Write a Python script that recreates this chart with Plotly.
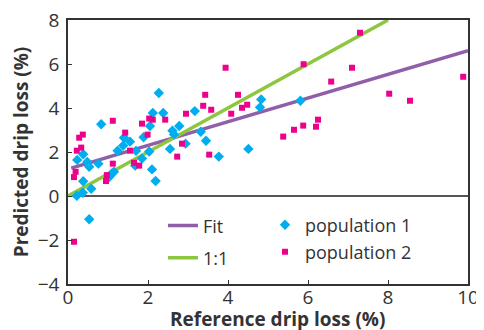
import plotly.graph_objects as go

# population 1 (cyan diamonds)
pop1_x = [0.22, 0.23, 0.37, 0.38, 0.38, 0.48, 0.53, 0.58, 0.76, 0.83, 1.03, 1.09, 1.15, 1.24,
          1.38, 1.40, 1.55, 1.68, 1.70, 1.85, 1.89, 2.03, 2.05, 2.10, 2.12, 2.19, 2.27, 2.38,
          2.55, 2.61, 2.78, 2.94, 3.17, 3.32, 3.45, 3.77, 4.51, 4.80, 4.83, 5.81, 0.53, 2.65]
pop1_y = [0.01, 1.64, 0.15, 0.67, 1.90, 1.55, 1.33, 0.33, 1.47, 3.26, 0.86, 1.01, 1.10, 2.06,
          2.29, 2.65, 2.47, 1.38, 2.05, 1.70, 2.67, 2.02, 3.18, 1.21, 3.77, 0.68, 4.68, 3.77,
          2.14, 2.97, 3.18, 2.38, 3.86, 2.92, 2.51, 1.79, 2.14, 4.03, 4.39, 4.33, -1.06, 2.80]

# population 2 (magenta squares)
pop2_x = [0.15, 0.19, 0.22, 0.28, 0.33, 0.37, 0.95, 0.97, 1.12, 1.12, 1.43, 1.55, 1.65, 1.78,
          1.85, 1.99, 2.03, 2.12, 2.43, 2.73, 2.85, 2.95, 3.38, 3.43, 3.53, 3.58, 3.94, 4.08,
          4.25, 4.35, 4.48, 0.15, 7.30, 5.89, 7.10, 6.58, 9.88, 8.03, 8.55, 6.25, 5.88, 6.20,
          5.65, 5.38]
pop2_y = [0.86, 1.10, 2.06, 2.65, 2.20, 2.79, 0.68, 0.95, 3.42, 1.47, 2.88, 2.06, 1.51, 1.38,
          3.29, 2.79, 3.52, 3.47, 3.47, 1.79, 2.38, 3.74, 4.10, 4.60, 1.88, 3.92, 5.83, 3.74,
          4.60, 4.01, 4.15, -2.08, 7.42, 5.99, 5.83, 5.20, 5.42, 4.65, 4.33, 3.47, 3.20, 3.15,
          3.01, 2.70]

fit_x = [0.08, 10.0]
fit_y = [1.27, 6.60]
one_x = [0.0, 8.0]
one_y = [0.0, 8.0]

x_ticks = [0, 2, 4, 6, 8, 10]
y_ticks = [-4, -2, 0, 2, 4, 6, 8]

x_title = "Reference drip loss (%)"
y_title = "Predicted drip loss (%)"

PURPLE = "#8F5FA8"
GREEN = "#8DC63F"
CYAN = "#00AEEF"
PINK = "#EC008C"
FONT = "Open Sans"

fig = go.Figure()
fig.add_trace(go.Scatter(x=fit_x, y=fit_y, mode="lines", name="Fit", showlegend=True,
                         line=dict(color=PURPLE, width=3.5), legend="legend"))
fig.add_trace(go.Scatter(x=one_x, y=one_y, mode="lines", name="1:1", showlegend=True,
                         line=dict(color=GREEN, width=3.5), legend="legend2"))
fig.add_trace(go.Scatter(x=pop1_x, y=pop1_y, mode="markers", name="population 1", showlegend=True,
                         marker=dict(symbol="diamond", color=CYAN, size=8), legend="legend3"))
fig.add_trace(go.Scatter(x=pop2_x, y=pop2_y, mode="markers", name="population 2", showlegend=True,
                         marker=dict(symbol="square", color=PINK, size=6), legend="legend4"))

leg_font = dict(family=FONT, size=18, color="#333333")
def leg(x, y):
    return dict(x=x, y=y, xanchor="left", yanchor="middle", bgcolor="rgba(0,0,0,0)",
                font=leg_font, borderwidth=0)

fig.add_annotation(text="<b>" + x_title + "</b>", xref="paper", yref="paper",
                   x=0.5225, y=-0.133, xanchor="center", yanchor="middle", showarrow=False,
                   font=dict(family=FONT, size=19, color="#333"))

fig.update_layout(
    width=476, height=322,
    margin=dict(l=60, r=16, t=12, b=46, autoexpand=False),
    plot_bgcolor="white", paper_bgcolor="white",
    font=dict(family=FONT, size=19, color="#333333"),
    legend=leg(0.2375, 0.22),
    legend2=leg(0.2375, 0.098),
    legend3=leg(0.4925, 0.2235),
    legend4=leg(0.4925, 0.121),
    xaxis=dict(range=[0, 10], tickvals=x_ticks, ticks="inside", ticklen=4, automargin=False,
               tickcolor="#333", showline=True, linecolor="#333", linewidth=1.5,
               mirror=True, showgrid=False, zeroline=False,
               ticklabelstandoff=-5, ticklabeloverflow="allow",
               tickfont=dict(family=FONT, size=19, color="#333")),
    yaxis=dict(range=[-4, 8], tickvals=y_ticks, ticks="inside", ticklen=4, automargin=False,
               tickcolor="#333", showline=True, linecolor="#333", linewidth=1.5,
               mirror=True, showgrid=False, zeroline=True, zerolinecolor="#555",
               zerolinewidth=1.5, ticklabelstandoff=3, ticklabeloverflow="allow",
               tickfont=dict(family=FONT, size=19, color="#333"),
               title=dict(text="<b>" + y_title + "</b>", standoff=4,
                          font=dict(family=FONT, size=19, color="#333"))),
)

fig.write_html("out.html")
